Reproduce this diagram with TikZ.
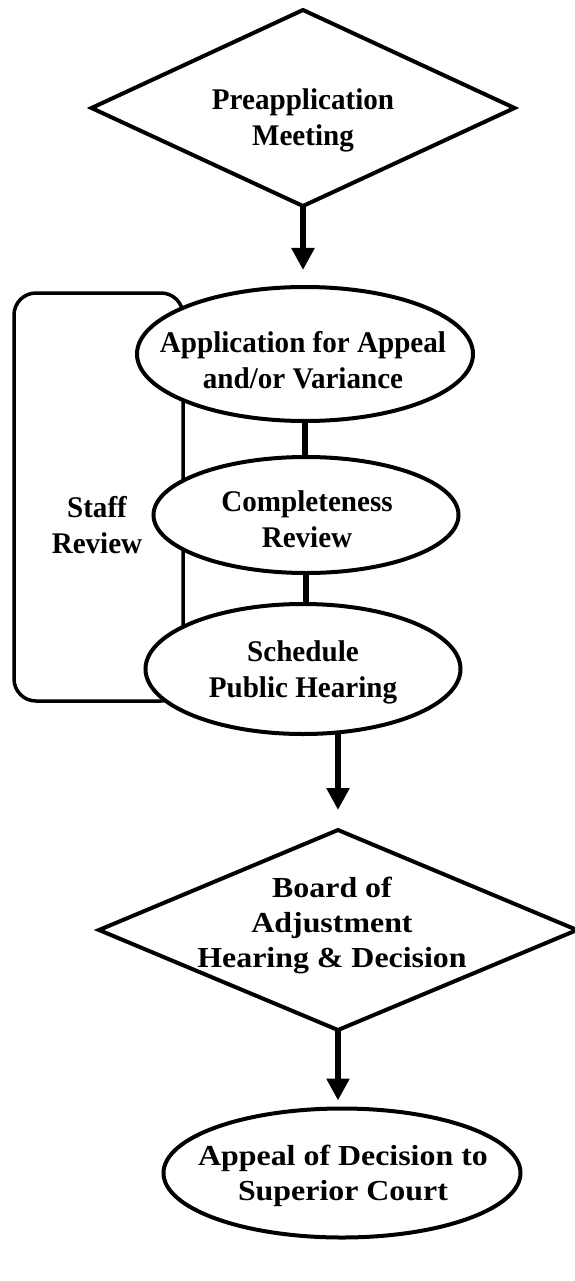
\documentclass[tikz,border=0pt]{standalone}
\usepackage{fontspec}
\setmainfont{Liberation Serif}
\newfontfamily\topfont[FakeStretch=0.97]{Liberation Serif}
\newfontfamily\botfont[FakeStretch=1.1]{Liberation Serif}
\usetikzlibrary{shapes.geometric,arrows.meta,calc}
\begin{document}
\begin{tikzpicture}[x=1pt,y=-1pt,
  shapebox/.style={draw, line width=4pt, fill=white, inner sep=0pt, outer sep=0pt},
  dia/.style={shapebox, diamond},
  ell/.style={shapebox, ellipse},
  lbl/.style={font=\topfont\fontsize{30}{36}\selectfont\bfseries, align=center, anchor=base, inner sep=0pt},
  lblb/.style={lbl, font=\botfont\fontsize{29}{35}\selectfont\bfseries},
  flow/.style={line width=6pt, -{Triangle[length=22pt,width=22pt]}},
  link/.style={line width=6pt}]
\useasboundingbox (0,0) rectangle (574,1281);
\node (staffbox) [draw, line width=3.5pt, rounded corners=22pt, minimum width=169pt, minimum height=408pt, inner sep=0pt] at (98.5,497) {};
\node (pre) [dia, minimum width=423pt, minimum height=196pt] at (303,108) {};
\node (app) [ell, minimum width=336pt, minimum height=134pt] at (305,354) {};
\node (comp) [ell, minimum width=305pt, minimum height=116pt] at (306,515) {};
\node (sched) [ell, minimum width=315pt, minimum height=130pt] at (303,669) {};
\node (board) [dia, minimum width=478pt, minimum height=200pt] at (338,930) {};
\node (appeal) [ell, minimum width=357pt, minimum height=129pt] at (342,1173) {};
\node (pretext) [lbl] at (303,146) {Preapplication\\Meeting};
\node (apptext) [lbl] at (303,388) {Application for Appeal\\and/or Variance};
\node (comptext) [lbl] at (307,547) {Completeness\\Review};
\node (schedtext) [lbl] at (303,697) {Schedule\\Public Hearing};
\node (stafftext) [lbl] at (97,553) {Staff\\Review};
\node (boardtext) [lblb] at (332,967) {Board of\\Adjustment\\Hearing \& Decision};
\node (appealtext) [lblb] at (343,1200) {Appeal of Decision to\\Superior Court};
\coordinate (t1) at ($(pre.south |- app.north)+(0,-17)$);
\coordinate (s2) at (board.north |- sched.south);
\coordinate (t2) at ($(board.north)+(0,-20)$);
\coordinate (t3) at ($(board.south |- appeal.north)+(0,-8)$);
\draw[flow] (pre.south) -- (t1);
\draw[link] (app.south) -- (app.south |- comp.north);
\draw[link] (comp.south) -- (comp.south |- sched.north);
\draw[flow] (s2) -- (t2);
\draw[flow] (board.south) -- (t3);
\end{tikzpicture}
\end{document}
